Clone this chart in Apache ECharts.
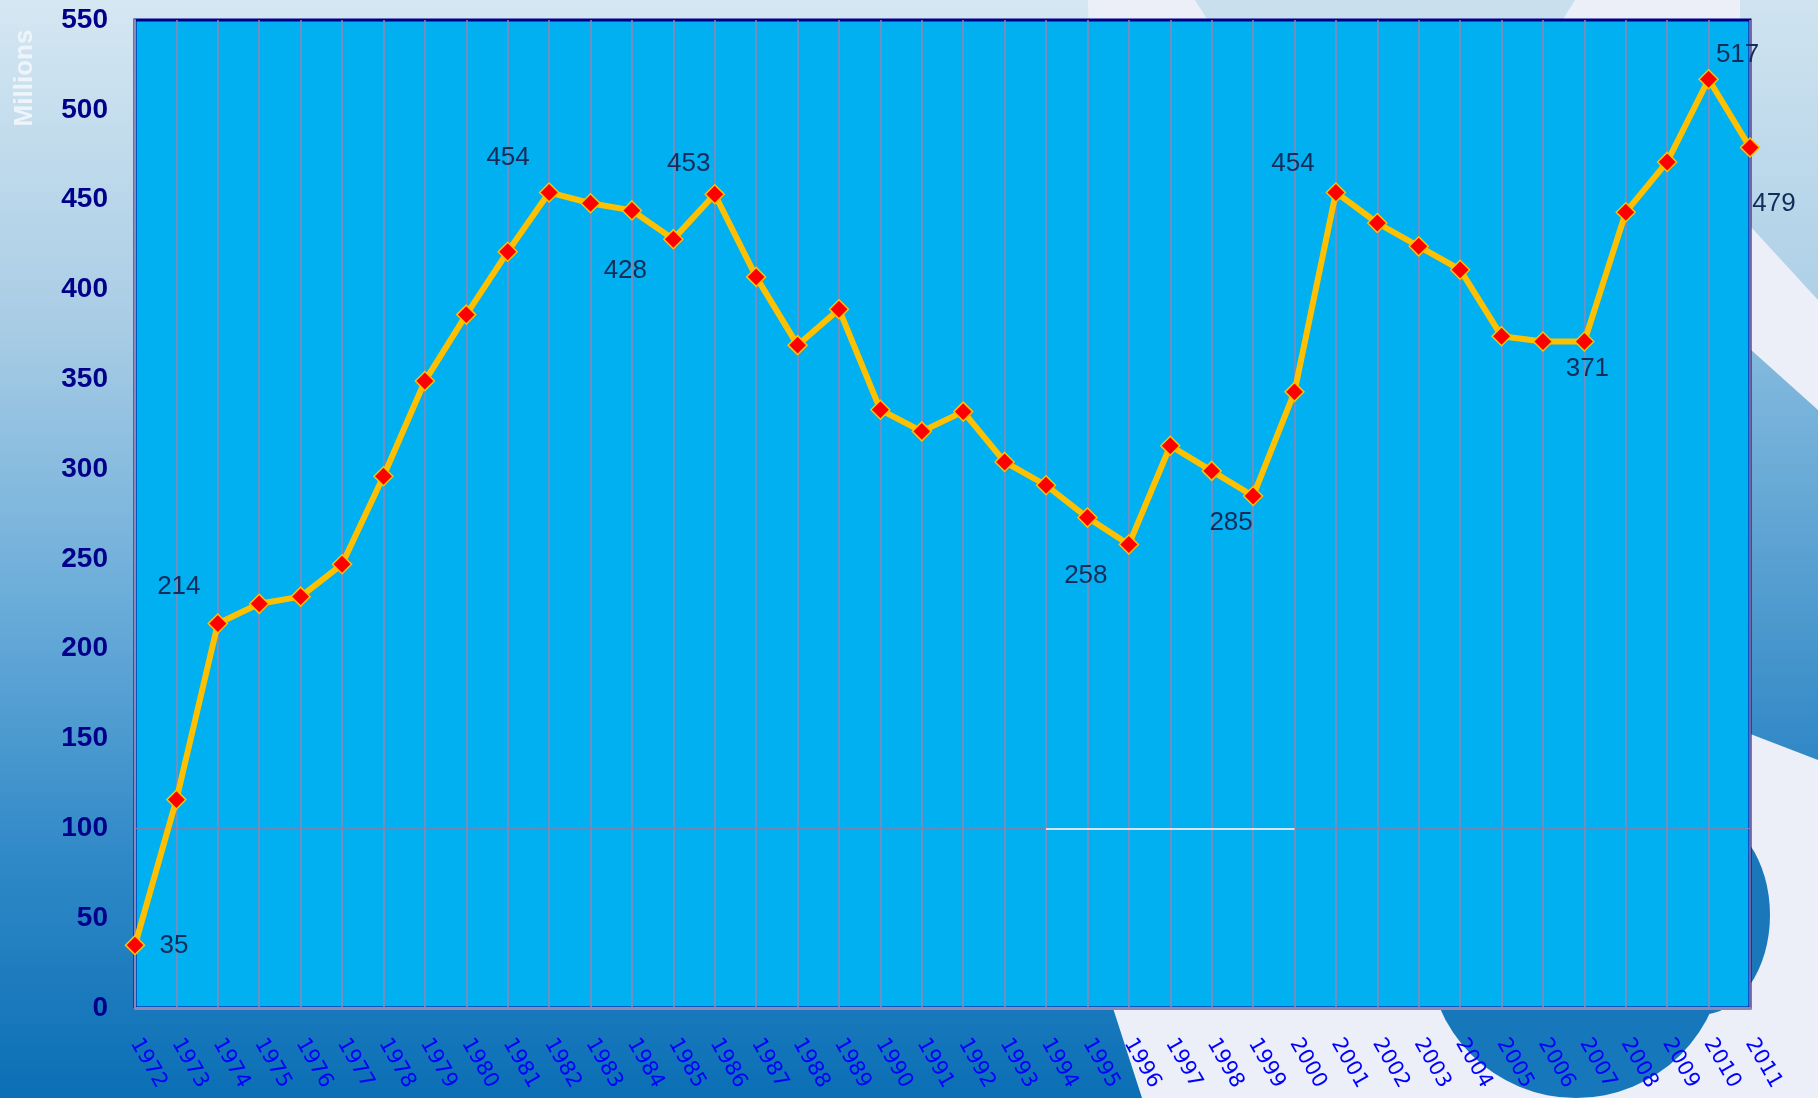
<!DOCTYPE html>
<html>
<head>
<meta charset="utf-8">
<script src="https://cdn.jsdelivr.net/npm/echarts@6/dist/echarts.min.js"></script>
<style>
  html, body { margin: 0; padding: 0; background: #eceff8; }
  #chart { width: 1818px; height: 1098px; }
</style>
</head>
<body>
<div id="chart"></div>
<script>
// Yearly totals, in millions
const years = [
  '1972','1973','1974','1975','1976','1977','1978','1979','1980','1981',
  '1982','1983','1984','1985','1986','1987','1988','1989','1990','1991',
  '1992','1993','1994','1995','1996','1997','1998','1999','2000','2001',
  '2002','2003','2004','2005','2006','2007','2008','2009','2010','2011'
];
const values = [
  35, 116, 214, 225, 229, 247, 296, 349, 386, 421,
  454, 448, 444, 428, 453, 407, 369, 389, 333, 321,
  332, 304, 291, 273, 258, 313, 299, 285, 343, 454,
  437, 424, 411, 374, 371, 371, 443, 471, 517, 479
];
// Years whose value is written next to the marker
const labelledYears = ['1972','1974','1982','1985','1986','1996','1999','2001','2007','2010','2011'];
// Value axis range
const yMin = 0;
const yMax = 550;
const yStep = 50;
const axisName = 'Millions';
const referenceLevel = 100;

// Where each value label sits relative to its marker (px)
const labelOffsets = {
  '1972': [39, 1], '1974': [-39, -37], '1982': [-41, -35], '1985': [-48, 32],
  '1986': [-26, -30], '1996': [-43, 31], '1999': [-22, 27], '2001': [-43, -29],
  '2007': [3, 27], '2010': [29, -24], '2011': [24, 56]
};

const seriesData = years.map((y, i) => {
  const item = { value: values[i] };
  if (labelledYears.includes(y)) {
    item.label = { show: true, offset: labelOffsets[y] };
  }
  return item;
});

const chart = echarts.init(document.getElementById('chart'), null, { renderer: 'canvas' });

// Slide backdrop: blue gradient panel on the left, pale sheet with blue swooshes on the right
const backdrop = [
  { type: 'rect', z: -100, shape: { x: 0, y: 0, width: 1818, height: 1098 }, style: { fill: '#eceff8' } },
  { type: 'polygon', z: -99, shape: { points: [[1195, 0], [1575, 0], [1560, 24], [1210, 24]] }, style: { fill: '#c9dfee' } },
  { type: 'polygon', z: -99, shape: { points: [[1740, 0], [1818, 0], [1818, 300], [1740, 215]] },
    style: { fill: new echarts.graphic.LinearGradient(0, 0, 0, 1, [
      { offset: 0, color: '#cfe3f0' }, { offset: 1, color: '#aed0e7' }]) } },
  { type: 'polygon', z: -99, shape: { points: [[1740, 340], [1818, 410], [1818, 760], [1740, 730]] },
    style: { fill: new echarts.graphic.LinearGradient(0, 0, 0, 1, [
      { offset: 0, color: '#86bbde' }, { offset: 1, color: '#3088c6' }]) } },
  { type: 'circle', z: -98, x: 1700, y: 915, scaleX: 0.7, shape: { cx: 0, cy: 0, r: 100 }, style: { fill: '#1a77ba' } },
  { type: 'circle', z: -98, shape: { cx: 1576, cy: 950, r: 148 }, style: { fill: '#1677ba' } },
  { type: 'polygon', z: -97, shape: { points: [[0, 0], [1088, 0], [1100, 500], [1112, 1005], [1142, 1098], [0, 1098]] },
    style: { fill: new echarts.graphic.LinearGradient(0, 0, 0, 1, [
      { offset: 0, color: '#d5e7f2' },
      { offset: 0.3, color: '#a8cce5' },
      { offset: 0.55, color: '#6aacd9' },
      { offset: 0.78, color: '#3089c7' },
      { offset: 1, color: '#0b6fb5' }]) } },
  { type: 'text', z: 10, x: 25, y: 78, rotation: Math.PI / 2,
    style: { text: axisName, fill: '#eef4fa', font: 'bold 26px "Liberation Sans", Arial, sans-serif',
      align: 'center', verticalAlign: 'middle' } }
];

const option = {
  backgroundColor: 'transparent',
  animation: false,
  graphic: { elements: backdrop },
  grid: {
    left: 135, right: 68, top: 20, bottom: 90,
    containLabel: false,
    show: true,
    backgroundColor: '#00b0f0',
    borderColor: '#00008b',
    borderWidth: 3
  },
  xAxis: {
    type: 'category',
    data: years,
    boundaryGap: false,
    axisLine: { show: true, lineStyle: { color: '#8c88b8', width: 3 } },
    axisTick: { show: false },
    axisLabel: {
      rotate: -60,
      margin: 32,
      interval: 0,
      color: '#0000ff',
      fontSize: 21,
      fontFamily: '"DejaVu Sans", Verdana, sans-serif'
    },
    splitLine: { show: true, interval: 0, lineStyle: { color: '#9684b2', width: 1.5 } }
  },
  yAxis: {
    type: 'value',
    min: yMin, max: yMax, interval: yStep,
    axisLine: { show: true, lineStyle: { color: '#8c88b8', width: 2 } },
    axisTick: { show: false },
    splitLine: { show: false },
    axisLabel: {
      margin: 27,
      color: '#00008b',
      fontSize: 28,
      fontWeight: 'bold',
      fontFamily: '"Liberation Sans", Arial, sans-serif'
    }
  },
  series: [{
    type: 'line',
    data: seriesData,
    symbol: 'diamond',
    symbolSize: 19,
    z: 5,
    lineStyle: { color: '#ffc000', width: 6 },
    itemStyle: { color: '#ff0000', borderColor: '#ffc000', borderWidth: 1.5 },
    label: {
      show: false,
      position: ['50%', '50%'],
      align: 'center',
      verticalAlign: 'middle',
      color: '#142c5a',
      fontSize: 26,
      fontFamily: '"Liberation Sans", Arial, sans-serif'
    },
    markLine: {
      silent: true,
      symbol: 'none',
      z: 1,
      label: { show: false },
      data: [
        { yAxis: referenceLevel, lineStyle: { color: '#6f88b6', width: 1, type: 'solid' } },
        [
          { coord: ['1994', referenceLevel], lineStyle: { color: '#ffffff', width: 1.5, type: 'solid' } },
          { coord: ['2000', referenceLevel] }
        ]
      ]
    }
  }]
};

chart.setOption(option);
</script>
</body>
</html>
